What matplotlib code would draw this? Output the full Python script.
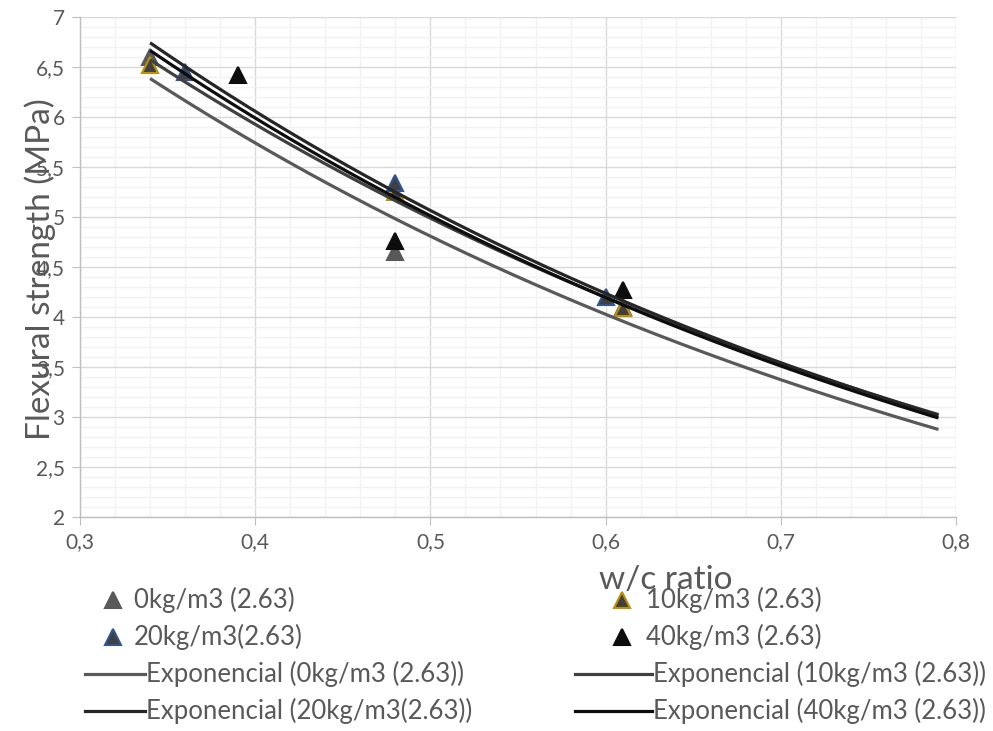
import numpy as np
import matplotlib
matplotlib.use("Agg")
import matplotlib.pyplot as plt
from matplotlib.lines import Line2D
from matplotlib.ticker import MultipleLocator, FuncFormatter

plt.rcParams['font.family'] = ['Lato', 'DejaVu Sans']

# ---- data ----
series_names = ["0kg/m3 (2.63)", "10kg/m3 (2.63)", "20kg/m3(2.63)", "40kg/m3 (2.63)"]
x_0kg = [0.34, 0.48, 0.61]
y_0kg = [6.60, 4.65, 4.10]
x_10kg = [0.34, 0.48, 0.61]
y_10kg = [6.52, 5.25, 4.09]
x_20kg = [0.36, 0.48, 0.60]
y_20kg = [6.45, 5.34, 4.20]
x_40kg = [0.39, 0.48, 0.61]
y_40kg = [6.42, 4.76, 4.27]
trend_x_range = [0.34, 0.79]

xs = [x_0kg, x_10kg, x_20kg, x_40kg]
ys = [y_0kg, y_10kg, y_20kg, y_40kg]

marker_face = ["#595959", "#404040", "#404040", "#0d0d0d"]
marker_edge = ["#595959", "#bf9000", "#2f5597", "#0d0d0d"]
line_colors = ["#595959", "#404040", "#262626", "#0d0d0d"]
text_col = "#595959"

W, H = 993, 731
fig = plt.figure(figsize=(W / 100, H / 100), dpi=100)
ax = fig.add_axes([80 / W, 1 - 517 / H, (956 - 80) / W, (517 - 17) / H])

# scatter points
for x, y, fc, ec in zip(xs, ys, marker_face, marker_edge):
    ax.plot(x, y, linestyle='none', marker='^', markersize=11, markerfacecolor=fc,
            markeredgecolor=ec, markeredgewidth=1.5, zorder=3)

# exponential trendlines
xt = np.linspace(trend_x_range[0], trend_x_range[1], 200)
for x, y, lc in zip(xs, ys, line_colors):
    b, ln_a = np.polyfit(np.array(x), np.log(np.array(y)), 1)
    ax.plot(xt, np.exp(ln_a) * np.exp(b * xt), color=lc, linewidth=2.3, zorder=4,
            solid_capstyle='butt')

ax.set_xlim(0.3, 0.8)
ax.set_ylim(2, 7)
ax.xaxis.set_major_locator(MultipleLocator(0.1))
ax.xaxis.set_minor_locator(MultipleLocator(0.02))
ax.yaxis.set_major_locator(MultipleLocator(0.5))
ax.yaxis.set_minor_locator(MultipleLocator(0.1))


def fmt(v, pos):
    s = ("%.1f" % v).rstrip('0').rstrip('.')
    return s.replace('.', ',')


ax.xaxis.set_major_formatter(FuncFormatter(fmt))
ax.yaxis.set_major_formatter(FuncFormatter(fmt))
ax.grid(which='major', color='#d9d9d9', linewidth=1.0, zorder=0)
ax.grid(which='minor', color='#f2f2f2', linewidth=1.0, zorder=0)
ax.set_axisbelow(True)
for s in ['top', 'right']:
    ax.spines[s].set_visible(False)
for s in ['left', 'bottom']:
    ax.spines[s].set_color('#bfbfbf')
    ax.spines[s].set_linewidth(1.0)
ax.tick_params(which='major', length=6, color='#bfbfbf', labelsize=15, labelcolor=text_col, pad=5)
ax.tick_params(which='minor', length=0)

fig.text(40 / W, 1 - 269 / H, "Flexural strength (MPa)", rotation=90, fontsize=24,
         color=text_col, ha='center', va='center')
fig.text(666 / W, 1 - 580 / H, "w/c ratio", fontsize=24, color=text_col,
         ha='center', va='center')

# manual legend
rows = [600, 637, 674, 711]
col_marker_x = [113, 622]
col_text_x = [134, 646]
for i in range(4):
    r = rows[i // 2]
    c = i % 2
    fy = 1 - r / H
    fig.add_artist(Line2D([col_marker_x[c] / W], [fy], linestyle='none', marker='^', markersize=11,
                          markerfacecolor=marker_face[i], markeredgecolor=marker_edge[i],
                          markeredgewidth=1.5, transform=fig.transFigure))
    fig.text(col_text_x[c] / W, fy, series_names[i], fontsize=18.5, color=text_col, va='center')

line_x0 = [85, 575]
line_x1 = [145, 652]
line_text_x = [146, 653]
for i in range(4):
    r = rows[2 + i // 2]
    c = i % 2
    fy = 1 - r / H
    fig.add_artist(Line2D([line_x0[c] / W, line_x1[c] / W], [fy, fy], color=line_colors[i],
                          linewidth=2.3, transform=fig.transFigure))
    fig.text(line_text_x[c] / W, fy, "Exponencial (%s)" % series_names[i], fontsize=18.5,
             color=text_col, va='center')

fig.savefig("out.png", dpi=100)
